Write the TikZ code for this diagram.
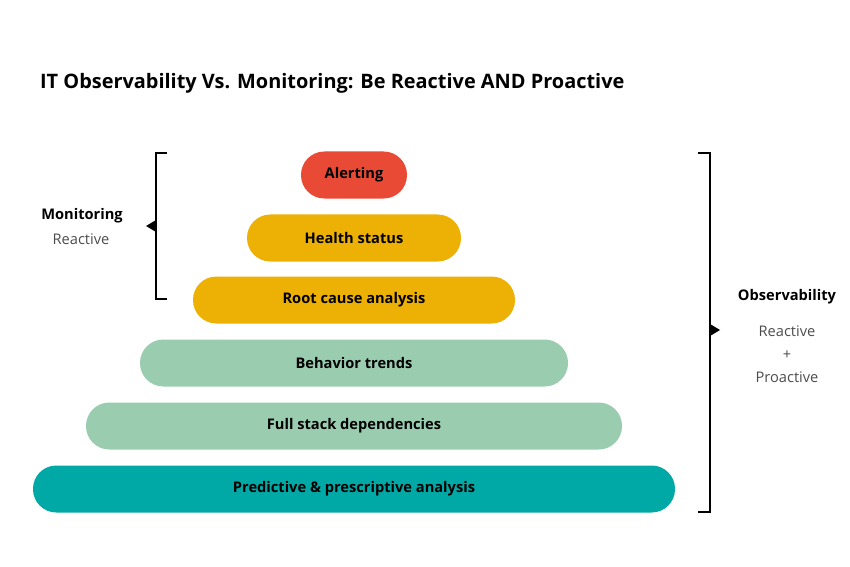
\documentclass[tikz,border=0pt]{standalone}
\usepackage{fontspec}
\setmainfont{Open Sans}
\usetikzlibrary{arrows.meta}
\definecolor{alertred}{HTML}{E84A35}
\definecolor{gold}{HTML}{EDB004}
\definecolor{mint}{HTML}{9ACDB0}
\definecolor{teal}{HTML}{00A9A5}
\begin{document}
\begin{tikzpicture}[x=0.03cm, y=-0.03cm]
	\tikzset{pill/.style={shape=rectangle, rounded corners=0.7cm, minimum height=1.41cm, inner sep=0pt, font=\fontsize{12.5}{14}\selectfont\bfseries},
		brace/.style={draw=black, line width=2.2pt},
		side/.style={font=\fontsize{12.5}{14}\selectfont, text=black!70, align=center}}
	\useasboundingbox (0,0) rectangle (850,567);
	\node[anchor=base west, font=\fontsize{17}{20}\selectfont\bfseries] (title) at (36,89) {IT Observability Vs. Monitoring: Be Reactive AND Proactive};
	% pyramid
	\node[pill, fill=alertred, minimum width=3.18cm] (alert) at (354,175) {Alerting};
	\node[pill, fill=gold, minimum width=6.42cm] (health) at (354,238) {Health status};
	\node[pill, fill=gold, minimum width=9.66cm] (root) at (354,300) {Root cause analysis};
	\node[pill, fill=mint, minimum width=12.84cm] (trend) at (354,363) {Behavior trends};
	\node[pill, fill=mint, minimum width=16.08cm] (stack) at (354,426) {Full stack dependencies};
	\node[pill, fill=teal, minimum width=19.26cm] (pred) at (354,489) {Predictive \& prescriptive analysis};
	% brackets
	\coordinate (mtop) at (167,153);
	\coordinate (mbot) at (167,299);
	\coordinate (mtip) at (146,226);
	\draw[brace] (mtop) -| (156,299) -- (mbot);
	\fill (156,220) -- (mtip) -- (156,232) -- cycle;
	\coordinate (otop) at (698,153);
	\coordinate (obot) at (698,512);
	\coordinate (otip) at (720,330);
	\draw[brace] (otop) -| (710,512) -- (obot);
	\fill (710,324) -- (otip) -- (710,336) -- cycle;
	% labels
	\node[font=\fontsize{12.5}{14}\selectfont\bfseries] (mon) at (82,216) {Monitoring};
	\node[side] (monr) at (81,239) {Reactive};
	\node[font=\fontsize{12.5}{14}\selectfont\bfseries] (obs) at (787,297) {Observability};
	\node[side, font=\fontsize{12.5}{19.5}\selectfont] (obsr) at (787,354) {Reactive\\+\\Proactive};
\end{tikzpicture}
\end{document}
